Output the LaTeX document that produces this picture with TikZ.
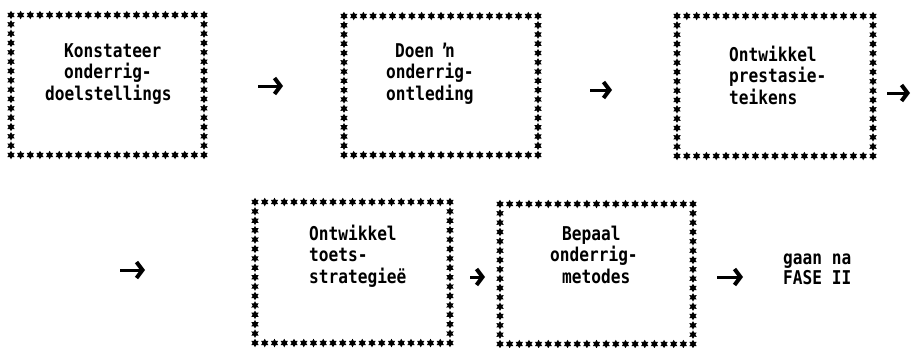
\documentclass[tikz,border=0pt]{standalone}
\usepackage{fontspec}
\newfontfamily\twfont{DejaVu Sans Mono}[FakeStretch=0.85]
\usetikzlibrary{shapes.geometric,calc,arrows.meta}
\tikzset{
  starmark/.style={star, star points=6, star point ratio=1.8, fill=black, draw=none, inner sep=0pt, minimum size=8.5pt},
  boxn/.style={draw=none, inner sep=0pt, outer sep=0pt},
  txt/.style={font=\twfont\bfseries\fontsize{19}{21.3}\selectfont, align=left, inner sep=0pt, anchor=base west},
  flow/.style={line width=3pt, -{Straight Barb[length=6pt,width=16pt,line width=4pt]}},
}
\newcommand\starframe[1]{%
  \foreach \i [evaluate=\i as \f using \i/20] in {0,...,20}{%
    \node[starmark] at ($(#1.north west)!\f!(#1.north east)$) {};
    \node[starmark] at ($(#1.south west)!\f!(#1.south east)$) {};
  }%
  \foreach \j [evaluate=\j as \g using \j/15] in {1,...,14}{%
    \node[starmark] at ($(#1.north west)!\g!(#1.south west)$) {};
    \node[starmark] at ($(#1.north east)!\g!(#1.south east)$) {};
  }%
}
\begin{document}
\begin{tikzpicture}[x=1pt,y=-1pt]
  \useasboundingbox (0,0) rectangle (911,348);
  % boxes
  \node[boxn, minimum width=193pt, minimum height=140pt] (b1) at (107.5,85) {};
  \node[boxn, minimum width=194pt, minimum height=139pt] (b2) at (441,85.5) {};
  \node[boxn, minimum width=196pt, minimum height=140pt] (b3) at (775,86) {};
  \node[boxn, minimum width=195pt, minimum height=141pt] (b4) at (352.5,272.5) {};
  \node[boxn, minimum width=193pt, minimum height=140pt] (b5) at (596.5,274) {};
  \starframe{b1}
  \starframe{b2}
  \starframe{b3}
  \starframe{b4}
  \starframe{b5}
  % texts (base anchor = baseline of the last line)
  \node[txt] (t1) at (45,100) {\hspace*{19pt}Konstateer\\\hspace*{19pt}onderrig-\\doelstellings};
  \node[txt] (t2) at (386,100) {\hspace*{9pt}Doen ŉ\\onderrig-\\ontleding};
  \node[txt] (t3) at (729,104) {Ontwikkel\\prestasie-\\teikens};
  \node[txt] (t4) at (309,283) {Ontwikkel\\toets-\\strategieë};
  \node[txt] (t5) at (550,283) {\hspace*{12pt}Bepaal\\onderrig-\\\hspace*{12pt}metodes};
  \node[txt, font=\twfont\bfseries\fontsize{19}{17}\selectfont] (t6) at (783,284) {gaan na\\FASE II};
  % arrows
  \coordinate (a1s) at (258,86);  \coordinate (a1e) at (283,86);
  \coordinate (a2s) at (590,90);  \coordinate (a2e) at (612,90);
  \coordinate (a3s) at (887,93);  \coordinate (a3e) at (910,93);
  \coordinate (a4s) at (120,270); \coordinate (a4e) at (145,270);
  \coordinate (a5s) at (470,277); \coordinate (a5e) at (485,277);
  \coordinate (a6s) at (717,277); \coordinate (a6e) at (743,277);
  \foreach \k in {1,...,6}{\draw[flow] (a\k s) -- (a\k e);}
\end{tikzpicture}
\end{document}
